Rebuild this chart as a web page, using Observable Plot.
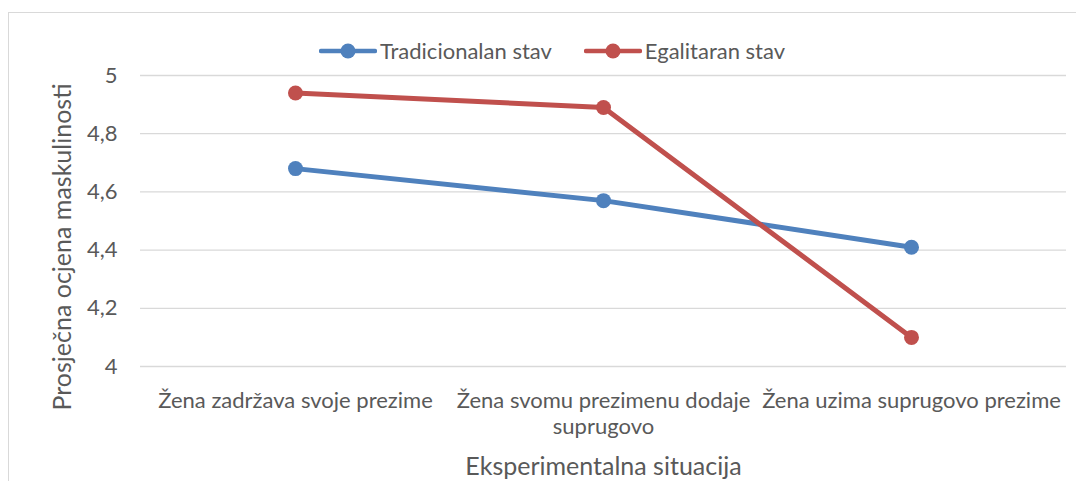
<!DOCTYPE html>
<html>
<head>
<meta charset="utf-8">
<script src="https://cdn.jsdelivr.net/npm/d3@7"></script>
<script src="https://cdn.jsdelivr.net/npm/@observablehq/plot@0.6"></script>
<style>
  html, body { margin: 0; padding: 0; background: #fff; }
  #wrap { position: relative; width: 1076px; height: 481px; overflow: hidden; font-family: Lato, "Open Sans", sans-serif; }
  #frame { position: absolute; left: 8px; top: 12px; width: 1200px; height: 600px; border: 1px solid #d9d9d9; box-sizing: border-box; }
  #chart { position: absolute; left: 0; top: 0; }
  #legend { position: absolute; left: 0; top: 38px; width: 1076px; box-sizing: border-box; padding-left: 28px;
            display: flex; justify-content: center; gap: 32px; color: #595959; font-size: 22px; line-height: 26px; }
  .item { display: flex; align-items: center; gap: 3px; }
</style>
</head>
<body>
<div id="wrap">
  <div id="frame"></div>
  <div id="chart"></div>
  <div id="legend"></div>
</div>
<script>
const categories = ["Žena zadržava svoje prezime", "Žena svomu prezimenu dodaje suprugovo", "Žena uzima suprugovo prezime"];
const seriesNames = ["Tradicionalan stav", "Egalitaran stav"];
const tradicionalan = [4.68, 4.57, 4.41];
const egalitaran = [4.94, 4.89, 4.10];
const yTicks = [4, 4.2, 4.4, 4.6, 4.8, 5];
const colors = ["#4f81bd", "#c0504d"];
const yTitle = "Prosječna ocjena maskulinosti";
const xTitle = "Eksperimentalna situacija";

const data = [];
[tradicionalan, egalitaran].forEach((vals, si) => {
  vals.forEach((v, i) => data.push({series: seriesNames[si], cat: categories[i], value: v}));
});

const fmt = d => String(d).replace(".", ",");

const chart = Plot.plot({
  width: 1076,
  height: 481,
  marginLeft: 140,
  marginRight: 10,
  marginTop: 75,
  marginBottom: 115,
  style: {fontFamily: "Lato, 'Open Sans', sans-serif", fontSize: "22px", color: "#595959", background: "transparent"},
  x: {type: "point", domain: categories, padding: 0.5, axis: null},
  y: {domain: [4, 5], axis: null},
  color: {domain: seriesNames, range: colors},
  marks: [
    Plot.ruleY(yTicks, {stroke: "#d9d9d9", strokeWidth: 1.3}),
    Plot.axisY({ticks: yTicks, tickSize: 0, tickPadding: 23, tickFormat: fmt, fontSize: 22, fill: "#595959", label: null}),
    Plot.text(categories, {x: d => d, frameAnchor: "bottom", dy: 24, lineAnchor: "top", lineWidth: 17, lineHeight: 1.15, fontSize: 22, fill: "#595959"}),
    Plot.text([xTitle], {frameAnchor: "bottom", dy: 100, lineAnchor: "middle", fontSize: 25, fill: "#595959"}),
    Plot.text([yTitle], {frameAnchor: "left", rotate: -90, dx: -78, dy: 26, lineAnchor: "middle", textAnchor: "middle", fontSize: 25, fill: "#595959"}),
    Plot.line(data, {x: "cat", y: "value", z: "series", stroke: "series", strokeWidth: 5}),
    Plot.dot(data, {x: "cat", y: "value", fill: "series", r: 7.5})
  ]
});
document.getElementById("chart").appendChild(chart);

const legend = document.getElementById("legend");
seriesNames.forEach((name, i) => {
  const item = document.createElement("div");
  item.className = "item";
  item.innerHTML = `<svg width="58" height="20"><line x1="2" y1="10" x2="56" y2="10" stroke="${colors[i]}" stroke-width="4.5" stroke-linecap="round"/><circle cx="29" cy="10" r="7.5" fill="${colors[i]}"/></svg><span>${name}</span>`;
  legend.appendChild(item);
});
</script>
</body>
</html>
